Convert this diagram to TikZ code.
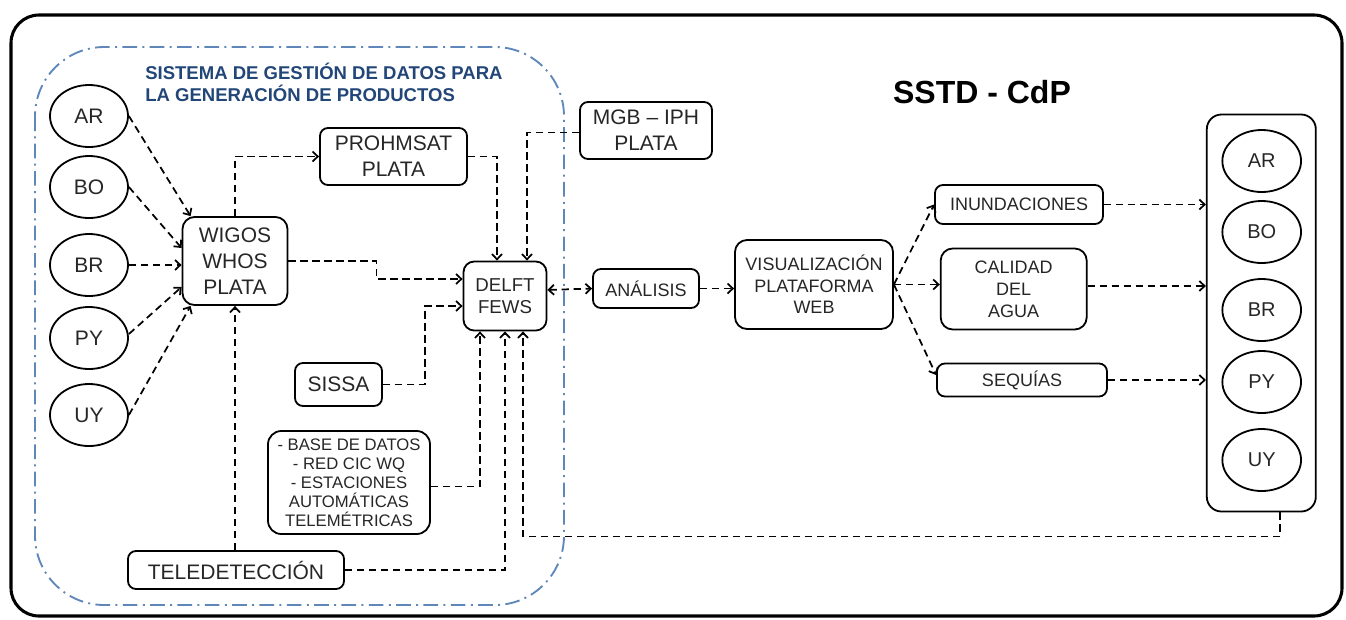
\documentclass[tikz,border=0pt]{standalone}
\usepackage{fontspec}
\setmainfont{Liberation Sans}
\usetikzlibrary{shapes.geometric,arrows.meta,calc}
\definecolor{titleblue}{RGB}{35,70,120}
\definecolor{regionblue}{RGB}{95,135,185}
\begin{document}
\begin{tikzpicture}[x=0.75pt,y=-0.75pt,
  sz/.style 2 args={minimum width=#1*0.75pt, minimum height=#2*0.75pt},
  box/.style={draw, line width=1.35pt, rounded corners=6pt, align=center, inner sep=0pt, text=black!85},
  ell/.style={draw, ellipse, line width=1.35pt, inner sep=0pt, minimum width=58.5pt, minimum height=46.5pt, text=black!85},
  conn/.style={line width=1.3pt, dash pattern=on 5.5pt off 3.5pt, -{Straight Barb[length=4pt,width=7.5pt]}},
  bconn/.style={line width=1.3pt, dash pattern=on 5.5pt off 3.5pt, {Straight Barb[length=4pt,width=7.5pt]}-{Straight Barb[length=4pt,width=7.5pt]}},
  bigf/.style={font=\fontsize{15.75pt}{19.5pt}\selectfont},
  medf/.style={font=\fontsize{13.5pt}{16.5pt}\selectfont},
  smlf/.style={font=\fontsize{12.5pt}{14.25pt}\selectfont},
]
\useasboundingbox (0,0) rectangle (1346,619);
% frames
\draw[line width=2.3pt, rounded corners=21pt] (11,15) rectangle (1342,616);
\draw[regionblue, line width=1.4pt, dash pattern=on 11pt off 4pt on 1.5pt off 4pt, rounded corners=52pt] (35,47) rectangle (564,605);
% titles
\node[anchor=west, align=left, inner sep=0pt, text=titleblue, font=\bfseries\fontsize{13.9pt}{16.5pt}\selectfont] (ttl) at (145,82) {SISTEMA DE GESTIÓN DE DATOS PARA\\LA GENERACIÓN DE PRODUCTOS};
\node[font=\bfseries\fontsize{24pt}{28pt}\selectfont] (sstd) at (982,92) {SSTD - CdP};
% left ellipses
\node[ell, bigf] (lAR) at (89,116) {AR};
\node[ell, bigf] (lBO) at (89,187) {BO};
\node[ell, bigf] (lBR) at (89,265) {BR};
\node[ell, bigf] (lPY) at (89,338) {PY};
\node[ell, bigf] (lUY) at (89,415) {UY};
% boxes
\node[box, bigf, sz={105}{88}, rounded corners=9pt] (wig) at (235,261) {WIGOS\\WHOS\\PLATA};
\node[box, bigf, sz={147}{57}] (proh) at (393.5,156.5) {PROHMSAT\\PLATA};
\node[box, font=\fontsize{14pt}{17pt}\selectfont, sz={83}{69}, rounded corners=8pt] (delft) at (505,296) {DELFT\\FEWS};
\node[box, bigf, sz={132}{57}] (mgb) at (646,130.5) {MGB – IPH\\PLATA};
\node[box, medf, sz={106}{39}] (anal) at (646,288.5) {ANÁLISIS};
\node[box, font=\fontsize{13.5pt}{16pt}\selectfont, sz={158}{89}, rounded corners=9pt] (vis) at (814,284.5) {VISUALIZACIÓN\\PLATAFORMA\\WEB};
\node[box, medf, sz={168}{39}] (inu) at (1019,204.5) {INUNDACIONES};
\node[box, medf, sz={146}{81}, rounded corners=9pt] (cal) at (1013.7,289) {CALIDAD\\DEL\\AGUA};
\node[box, medf, sz={170}{33}] (seq) at (1022,380) {SEQUÍAS};
\node[box, bigf, sz={87}{43}] (sis) at (338.5,384.5) {SISSA};
\node[box, smlf, sz={162}{103}, rounded corners=10pt] (bas) at (349,482.5) {- BASE DE DATOS\\- RED CIC WQ\\- ESTACIONES\\AUTOMÁTICAS\\TELEMÉTRICAS};
\node[box, bigf, sz={216}{38}] (tel) at (236,570) {TELEDETECCIÓN};
% right container
\node[box, sz={109}{397}, rounded corners=11pt] (cont) at (1261.3,313) {};
\node[ell, font=\fontsize{15pt}{18pt}\selectfont, minimum width=59pt] (rAR) at (1261.7,161) {AR};
\node[ell, font=\fontsize{15pt}{18pt}\selectfont, minimum width=59pt] (rBO) at (1261.7,232) {BO};
\node[ell, font=\fontsize{15pt}{18pt}\selectfont, minimum width=59pt] (rBR) at (1261.7,310) {BR};
\node[ell, font=\fontsize{15pt}{18pt}\selectfont, minimum width=59pt] (rPY) at (1261.7,382) {PY};
\node[ell, font=\fontsize{15pt}{18pt}\selectfont, minimum width=59pt] (rUY) at (1261.7,460) {UY};
% connectors
\draw[conn] (lAR.east) -- ($(wig.north west)+(9,0)$);
\draw[conn] (lBO.east) -- ($(wig.west)+(0,-13)$);
\draw[conn] (lBR.east) -- (lBR.east -| wig.west);
\draw[conn] ($(lPY.east)+(0,-4)$) -- ($(wig.west)+(0,26)$);
\draw[conn] (lUY.east) -- ($(wig.south west)+(9,0)$);
\draw[conn] (wig.north) |- (proh.west);
\draw[conn] (proh.east) -| ($(delft.north)+(-8,0)$);
\draw[conn] ($(mgb.west)+(0,2)$) -| ($(delft.north)+(22,0)$);
\draw[conn] (wig.east) -- ++(88,0) |- ($(delft.west)+(0,-17)$);
\draw[conn] (sis.east) -- ++(42,0) |- ($(delft.west)+(0,10)$);
\draw[conn] ($(bas.east)+(0,4)$) -| ($(delft.south)+(-25,0)$);
\draw[conn] (tel.east) -| (delft.south);
\draw[conn] (wig.south |- tel.north) -- (wig.south);
\draw[conn] ($(cont.south)+(19,0)$) -- ++(0,24) -| ($(delft.south)+(18,0)$);
\draw[bconn] ($(delft.east)+(0,-6)$) -- (anal.west);
\draw[conn] (anal.east) -- (anal.east -| vis.west);
\draw[conn] (vis.east) -- (inu.west);
\draw[conn] (vis.east) -- (vis.east -| cal.west);
\draw[conn] (vis.east) -- ($(seq.west)+(0,-5)$);
\draw[conn] (inu.east) -- (inu.east -| cont.west);
\draw[conn] ($(cal.east)+(0,-3)$) -- ($(cal.east -| cont.west)+(0,-3)$);
\draw[conn] (seq.east) -- (seq.east -| cont.west);
\end{tikzpicture}
\end{document}
